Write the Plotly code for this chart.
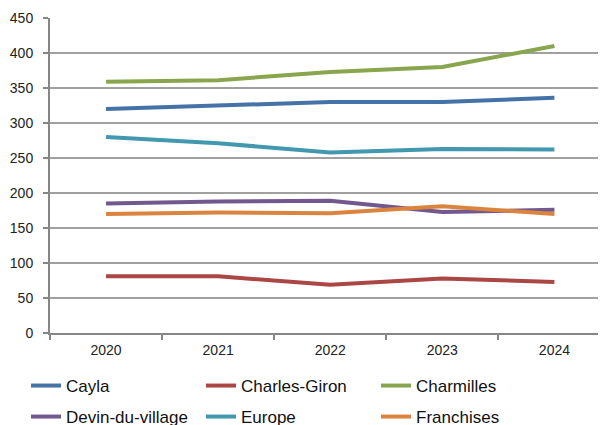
import plotly.graph_objects as go

years = ["2020", "2021", "2022", "2023", "2024"]
cayla = [320, 325, 330, 330, 336]
charles_giron = [81, 81, 69, 78, 73]
charmilles = [359, 361, 373, 380, 410]
devin = [185, 188, 189, 173, 176]
europe = [280, 271, 258, 263, 262]
franchises = [170, 172, 171, 181, 170]

names = ["Cayla", "Charles-Giron", "Charmilles", "Devin-du-village", "Europe", "Franchises"]
series = [cayla, charles_giron, charmilles, devin, europe, franchises]
colors = ["#4572A7", "#AA4643", "#89A54E", "#71588F", "#4198AF", "#DB843D"]
legend_rows = ["legend", "legend", "legend", "legend2", "legend2", "legend2"]

fig = go.Figure()
for n, s, c, lg in zip(names, series, colors, legend_rows):
    fig.add_trace(go.Scatter(x=years, y=s, name=n, mode="lines", legend=lg,
                             line=dict(color=c, width=4)))

leg_common = dict(orientation="h", xref="container", yref="container",
                  x=18 / 606, xanchor="left", yanchor="middle",
                  entrywidth=130, font=dict(size=17, color="#111111"),
                  itemwidth=30, traceorder="normal", bgcolor="rgba(0,0,0,0)")

fig.update_layout(
    width=606, height=425,
    margin=dict(l=42, r=8, t=10, b=100, autoexpand=False),
    paper_bgcolor="white", plot_bgcolor="white",
    font=dict(family="Liberation Sans, Arial", color="#222222", size=14),
    showlegend=True,
    legend=dict(**leg_common, y=(425 - 378) / 425),
    legend2=dict(**leg_common, y=(425 - 409) / 425),
)
fig.update_xaxes(type="category", range=[-0.5, 4.46], showgrid=False,
                 showline=True, linecolor="#868686", linewidth=2,
                 ticks="outside", tickson="boundaries", ticklen=5, tickcolor="#868686",
                 tickwidth=1.5, tickfont=dict(size=14), ticklabelstandoff=3)
fig.update_yaxes(range=[0, 450], dtick=50, showgrid=True, gridcolor="#a0a0a0", gridwidth=1.5,
                 showline=True, linecolor="#868686", linewidth=2, zeroline=False,
                 ticks="outside", ticklen=5, tickcolor="#868686", tickwidth=1.5,
                 tickfont=dict(size=14), ticklabelstandoff=7)

fig.write_html("out.html")
